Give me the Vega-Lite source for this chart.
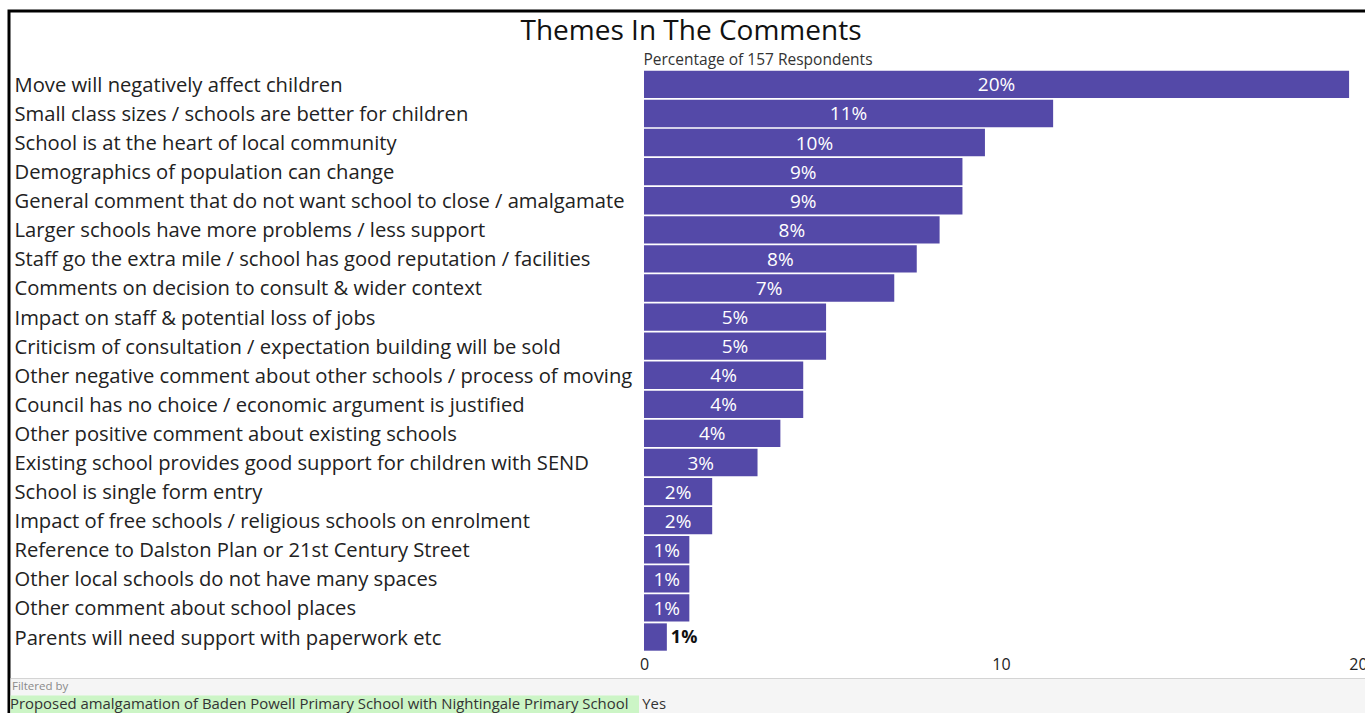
{
  "$schema": "https://vega.github.io/schema/vega-lite/v6.json",
  "width": 1380,
  "height": 720,
  "autosize": {"type": "none"},
  "padding": {"left": 9, "top": 11, "right": 0, "bottom": 0},
  "background": "white",
  "config": {
    "font": "Open Sans",
    "view": {"stroke": "#000000", "strokeWidth": 3, "fill": "white"}
  },
  "title": {
    "text": "Themes In The Comments",
    "fontSize": 28,
    "fontWeight": "normal",
    "color": "#111111",
    "anchor": "middle",
    "frame": "group",
    "dx": -8,
    "dy": 27,
    "offset": -36,
    "baseline": "bottom"
  },
  "datasets": {
    "themes": [
      {"theme": "Move will negatively affect children", "pct": 19.75, "label": "20%"},
      {"theme": "Small class sizes / schools are better for children", "pct": 11.46, "label": "11%"},
      {"theme": "School is at the heart of local community", "pct": 9.55, "label": "10%"},
      {"theme": "Demographics of population can change", "pct": 8.92, "label": "9%"},
      {"theme": "General comment that do not want school to close / amalgamate", "pct": 8.92, "label": "9%"},
      {"theme": "Larger schools have more problems / less support", "pct": 8.28, "label": "8%"},
      {"theme": "Staff go the extra mile / school has good reputation / facilities", "pct": 7.64, "label": "8%"},
      {"theme": "Comments on decision to consult & wider context", "pct": 7.01, "label": "7%"},
      {"theme": "Impact on staff & potential loss of jobs", "pct": 5.10, "label": "5%"},
      {"theme": "Criticism of consultation / expectation building will be sold", "pct": 5.10, "label": "5%"},
      {"theme": "Other negative comment about other schools / process of moving", "pct": 4.46, "label": "4%"},
      {"theme": "Council has no choice / economic argument is justified", "pct": 4.46, "label": "4%"},
      {"theme": "Other positive comment about existing schools", "pct": 3.82, "label": "4%"},
      {"theme": "Existing school provides good support for children with SEND", "pct": 3.18, "label": "3%"},
      {"theme": "School is single form entry", "pct": 1.91, "label": "2%"},
      {"theme": "Impact of free schools / religious schools on enrolment", "pct": 1.91, "label": "2%"},
      {"theme": "Reference to Dalston Plan or 21st Century Street", "pct": 1.27, "label": "1%"},
      {"theme": "Other local schools do not have many spaces", "pct": 1.27, "label": "1%"},
      {"theme": "Other comment about school places", "pct": 1.27, "label": "1%"},
      {"theme": "Parents will need support with paperwork etc", "pct": 0.64, "label": "1%"}
    ],
    "footer": [
      {"caption": "Filtered by", "filter": "Proposed amalgamation of Baden Powell Primary School with Nightingale Primary School", "value": "Yes"}
    ]
  },
  "layer": [
    {
      "data": {"name": "themes"},
      "layer": [
        {
          "layer": [
            {
              "mark": {"type": "bar", "color": "#5449a8"},
              "encoding": {
                "y": {
                  "field": "theme",
                  "type": "nominal",
                  "sort": null,
                  "scale": {
                    "domain": [
                      "Move will negatively affect children",
                      "Small class sizes / schools are better for children",
                      "School is at the heart of local community",
                      "Demographics of population can change",
                      "General comment that do not want school to close / amalgamate",
                      "Larger schools have more problems / less support",
                      "Staff go the extra mile / school has good reputation / facilities",
                      "Comments on decision to consult & wider context",
                      "Impact on staff & potential loss of jobs",
                      "Criticism of consultation / expectation building will be sold",
                      "Other negative comment about other schools / process of moving",
                      "Council has no choice / economic argument is justified",
                      "Other positive comment about existing schools",
                      "Existing school provides good support for children with SEND",
                      "School is single form entry",
                      "Impact of free schools / religious schools on enrolment",
                      "Reference to Dalston Plan or 21st Century Street",
                      "Other local schools do not have many spaces",
                      "Other comment about school places",
                      "Parents will need support with paperwork etc"
                    ],
                    "range": [59.7, 639.7],
                    "paddingInner": 0.06,
                    "paddingOuter": 0
                  },
                  "axis": {
                    "title": "Percentage of 157 Respondents",
                    "titleAngle": 0,
                    "titleAlign": "left",
                    "titleBaseline": "alphabetic",
                    "titleX": 634,
                    "titleY": 53,
                    "titleFontSize": 15.5,
                    "titleFontWeight": "normal",
                    "titleColor": "#333333",
                    "labelAlign": "left",
                    "labelBaseline": "middle",
                    "labelPadding": -5,
                    "labelOffset": 1.5,
                    "labelFontSize": 20.2,
                    "labelColor": "#222222",
                    "labelLimit": 700,
                    "ticks": false,
                    "domain": false,
                    "grid": false
                  }
                },
                "x": {
                  "field": "pct",
                  "type": "quantitative",
                  "scale": {"domain": [-17.787, 20.868], "nice": false, "zero": false},
                  "axis": {
                    "values": [0, 10, 20],
                    "title": null,
                    "grid": false,
                    "domain": false,
                    "ticks": false,
                    "labelFontSize": 16,
                    "labelColor": "#222222",
                    "labelPadding": 0,
                    "offset": -75,
                    "labelFlush": false,
                    "labelOverlap": false
                  }
                },
                "x2": {"datum": 0}
              }
            },
            {
              "transform": [{"filter": "datum.pct < 1"}],
              "mark": {"type": "text", "align": "left", "baseline": "middle", "dx": 4, "dy": 1, "fontSize": 18, "fontWeight": "bold", "color": "#111111"},
              "encoding": {
                "y": {"field": "theme", "type": "nominal"},
                "x": {"field": "pct", "type": "quantitative"},
                "text": {"field": "label"}
              }
            }
          ]
        },
        {
          "transform": [{"filter": "datum.pct >= 1"}],
          "mark": {"type": "text", "align": "center", "baseline": "middle", "dy": 1, "fontSize": 19, "color": "white"},
          "encoding": {
            "y": {"field": "theme", "type": "nominal"},
            "x": {
              "field": "pct",
              "type": "quantitative",
              "scale": {"domain": [-35.574, 41.736], "nice": false, "zero": false},
              "axis": null
            },
            "text": {"field": "label"}
          }
        }
      ],
      "resolve": {"scale": {"x": "independent"}}
    },
    {
      "data": {"name": "footer"},
      "layer": [
        {
          "mark": {"type": "rect", "color": "#f5f5f5"},
          "encoding": {
            "x": {"datum": -17.745, "type": "quantitative", "scale": {"domain": [-17.787, 20.868], "nice": false, "zero": false}, "axis": null},
            "x2": {"datum": 20.868},
            "y": {"datum": 668, "type": "quantitative", "scale": {"domain": [0, 720], "reverse": true, "nice": false, "zero": false}, "axis": null},
            "y2": {"datum": 720}
          }
        },
        {
          "mark": {"type": "rule", "color": "#d4d4d4", "strokeWidth": 1},
          "encoding": {
            "x": {"datum": -17.745, "type": "quantitative"},
            "x2": {"datum": 20.868},
            "y": {"datum": 667.5, "type": "quantitative"}
          }
        },
        {
          "mark": {"type": "rect", "color": "#ccf5c6"},
          "encoding": {
            "x": {"datum": -17.745, "type": "quantitative"},
            "x2": {"datum": -0.14},
            "y": {"datum": 684.5, "type": "quantitative"},
            "y2": {"datum": 720}
          }
        },
        {
          "mark": {"type": "text", "align": "left", "baseline": "middle", "fontSize": 11.5, "color": "#8a8a8a"},
          "encoding": {
            "x": {"datum": -17.703, "type": "quantitative"},
            "y": {"datum": 676, "type": "quantitative"},
            "text": {"field": "caption"}
          }
        },
        {
          "mark": {"type": "text", "align": "left", "baseline": "middle", "fontSize": 14.9, "color": "#333333"},
          "encoding": {
            "x": {"datum": -17.759, "type": "quantitative"},
            "y": {"datum": 693.5, "type": "quantitative"},
            "text": {"field": "filter"}
          }
        },
        {
          "mark": {"type": "text", "align": "left", "baseline": "middle", "fontSize": 14.9, "color": "#333333"},
          "encoding": {
            "x": {"datum": -0.05, "type": "quantitative"},
            "y": {"datum": 693.5, "type": "quantitative"},
            "text": {"field": "value"}
          }
        }
      ]
    }
  ],
  "resolve": {"scale": {"x": "independent", "y": "independent"}}
}
